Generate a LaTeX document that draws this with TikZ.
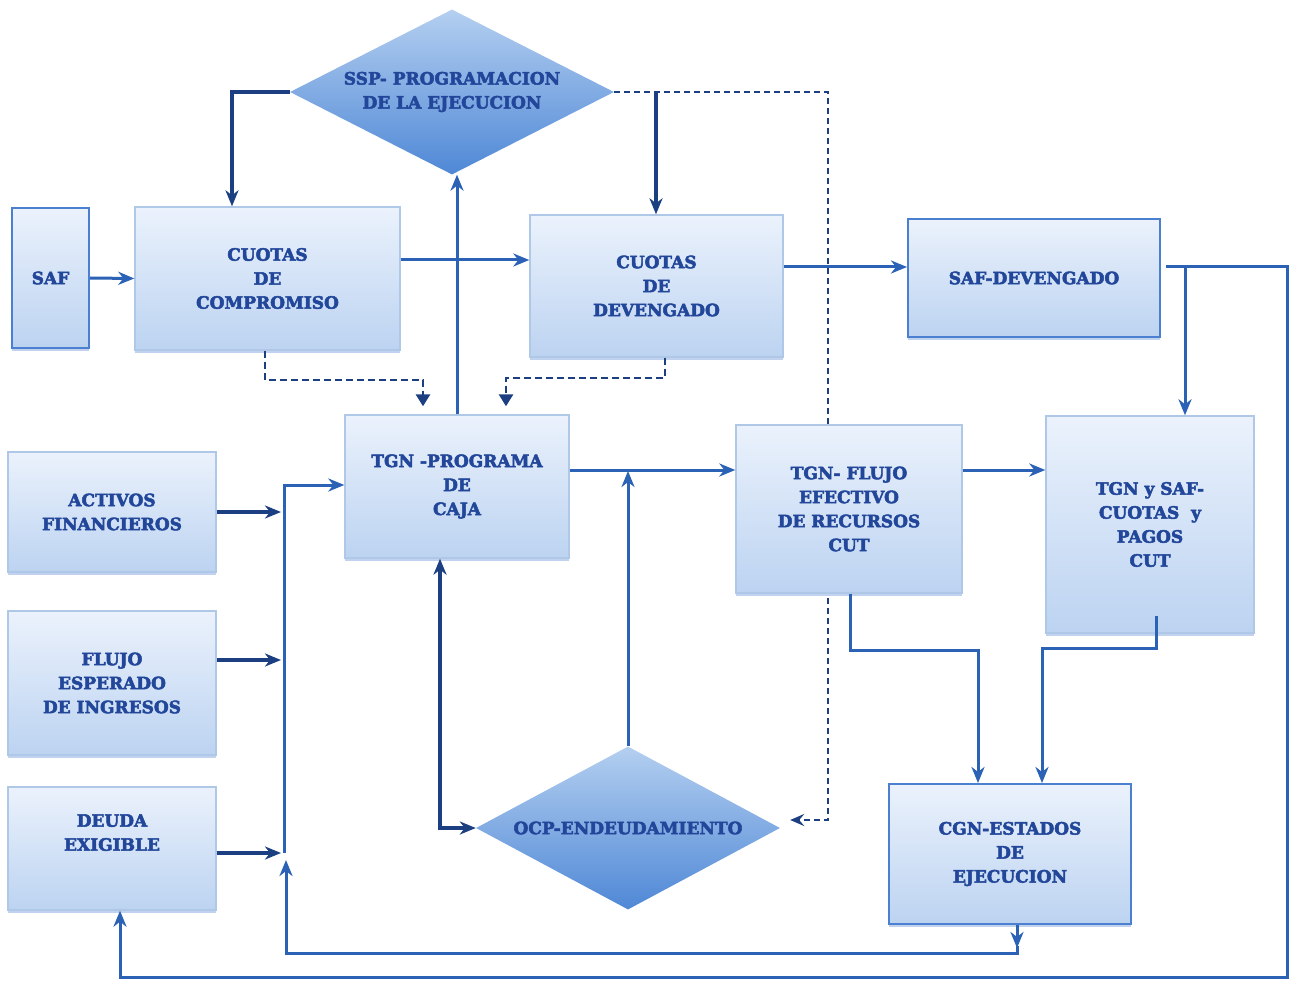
\documentclass[tikz,border=0pt]{standalone}
\usepackage{fontspec}
\setmainfont{DejaVu Serif}[BoldFeatures={FakeBold=3}]
\usetikzlibrary{shapes.geometric,arrows.meta,shadows,calc}
\definecolor{txtblue}{HTML}{22479A}
\definecolor{lineblue}{HTML}{2B62B5}
\definecolor{navy}{HTML}{1B3F80}
\definecolor{boxtop}{HTML}{EBF2FC}
\definecolor{boxbot}{HTML}{BCD3F1}
\definecolor{lightborder}{HTML}{AFC8E8}
\definecolor{strongborder}{HTML}{4B7FCF}
\definecolor{diatop}{HTML}{B4CFF0}
\definecolor{diabot}{HTML}{4F88D6}
\pgfdeclarelayer{background}
\pgfsetlayers{background,main}
\tikzset{
  box/.style={rectangle, draw=lightborder, line width=1.4pt, top color=boxtop, bottom color=boxbot,
    align=center, text=txtblue, font=\fontsize{17}{24}\selectfont\bfseries, inner sep=0pt,
    drop shadow={shadow xshift=0pt, shadow yshift=-3pt, opacity=.35, fill=strongborder}},
  sbox/.style={box, draw=strongborder, line width=2pt},
  dia/.style={diamond, inner sep=0pt, top color=diatop, bottom color=diabot, draw=none,
    align=center, text=txtblue, font=\fontsize{17}{24}\selectfont\bfseries},
  arr/.style={draw=lineblue, line width=3pt, -{Stealth[length=16pt,width=13pt,inset=5pt]}},
  arrn/.style={draw=navy, line width=3.2pt, -{Stealth[length=16pt,width=13pt,inset=5pt]}},
  dasharr/.style={draw=navy, line width=2.8pt, dash pattern=on 7pt off 4pt, -{Triangle[length=12pt,width=14pt]}},
  dashthin/.style={draw=navy, line width=2.6pt, dash pattern=on 6pt off 4pt, -{Stealth[length=14pt,width=12pt,inset=5pt]}},
}
\begin{document}
\begin{tikzpicture}[x=1pt,y=-1pt]
\useasboundingbox (0,0) rectangle (1292,981);
\begin{pgfonlayer}{background}
\fill[white] (0,0) rectangle (1292,981);
\end{pgfonlayer}

% nodes
\node[sbox, minimum width=77, minimum height=140] (saf) at (50.5,278) {SAF};
\node[box, minimum width=265, minimum height=143] (comp) at (267.5,278.5) {CUOTAS\\DE\\COMPROMISO};
\node[dia, shape aspect=2, minimum width=324, minimum height=165] (ssp) at (452,92) {SSP- PROGRAMACION\\DE LA EJECUCION};
\node[box, minimum width=253, minimum height=142] (dev) at (656.5,286) {CUOTAS\\DE\\DEVENGADO};
\node[sbox, minimum width=252, minimum height=118] (safdev) at (1034,278) {SAF-DEVENGADO};
\node[box, minimum width=208, minimum height=120] (activos) at (112,512) {ACTIVOS\\FINANCIEROS};
\node[box, minimum width=208, minimum height=144] (flujo) at (112,683) {FLUJO\\ESPERADO\\DE INGRESOS};
\node[box, minimum width=208, minimum height=123] (deuda) at (112,848.5) {DEUDA\\EXIGIBLE\\[8pt]};
\node[box, minimum width=224, minimum height=143] (prog) at (457,486.5) {TGN -PROGRAMA\\DE\\CAJA};
\node[box, minimum width=226, minimum height=168] (flujoef) at (849,509) {TGN- FLUJO\\EFECTIVO\\DE RECURSOS\\CUT};
\node[box, minimum width=208, minimum height=217] (tgnsaf) at (1150,524.5) {TGN y SAF-\\CUOTAS\ \ y\\PAGOS\\CUT};
\node[dia, shape aspect=1.9, minimum width=304, minimum height=163] (ocp) at (628,828) {OCP-ENDEUDAMIENTO};
\node[sbox, minimum width=242, minimum height=140] (cgn) at (1010,854) {CGN-ESTADOS\\DE\\EJECUCION};

% dashed line behind TGN flujo box
\begin{pgfonlayer}{background}
\draw[dashthin] (ssp.east) -- (828,92) -- (828,820) -- ($(ocp.east)+(10,-8)$);
\end{pgfonlayer}

% connectors
\draw[arr] (saf.east) -- (comp.west);
\draw[arrn] (ssp.west) -- (232,92) -- (232,0 |- comp.north);
\draw[arrn] (656,92) -- (656,0 |- dev.north);
\draw[arr] (comp.east |- 0,260) -- (dev.west |- 0,260);
\draw[arr] (prog.north) -- (prog.north |- ssp.south);
\draw[dasharr, shorten >=8pt] (265,0 |- comp.south) -- (265,380) -- (423,380) -- (423,0 |- prog.north);
\draw[dasharr, shorten >=8pt] (665,0 |- dev.south) -- (665,378) -- (506,378) -- (506,0 |- prog.north);
\draw[arr] (dev.east |- 0,267) -- (safdev.west |- 0,267);
\draw[arr] ($(safdev.east |- 0,267)+(5,0)$) -- (1287,267) -- (1287,977) -- (120,977) -- (120,0 |- deuda.south);
\draw[arr] (1185,267) -- (1185,0 |- tgnsaf.north);
\draw[arrn] (activos.east) -- (281,512);
\draw[arrn] (flujo.east |- 0,660) -- (281,660);
\draw[arrn] (deuda.east |- 0,853) -- (281,853);
\draw[arr] (284,853) -- (284,485) -- (prog.west |- 0,485);
\draw[arr] (1017,0 |- cgn.south) -- (1017,948);
\draw[arr] (1017,946) -- (1017,953) -- (286,953) -- (286,860);
\draw[arr] (prog.east |- 0,470) -- (flujoef.west |- 0,470);
\draw[arr] (ocp.north) -- (ocp.north |- 0,471);
\draw[arrn, {Stealth[length=16pt,width=13pt,inset=5pt]}-{Stealth[length=16pt,width=13pt,inset=5pt]}] (440,0 |- prog.south) -- (440,0 |- ocp.west) -- (ocp.west);
\draw[arr] (flujoef.east |- 0,470) -- (tgnsaf.west |- 0,470);
\draw[arr] (850,0 |- flujoef.south) -- (850,650) -- (978,650) -- (978,0 |- cgn.north);
\draw[arr] ($(1156,0 |- tgnsaf.south)+(0,-18)$) -- (1156,648) -- (1042,648) -- (1042,0 |- cgn.north);
\end{tikzpicture}
\end{document}
